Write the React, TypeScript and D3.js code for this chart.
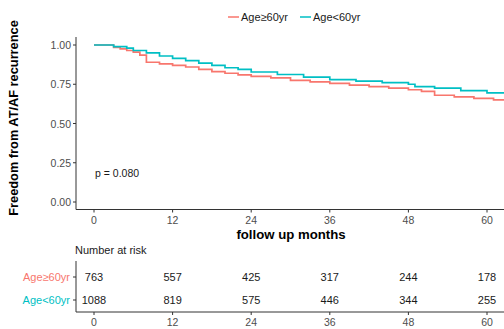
import React, { useEffect, useRef } from 'react';
import * as d3 from 'd3';

// survival steps (month, survival)
const olderTimes = [0, 3, 4, 5, 6, 7, 8, 10, 12, 14, 16, 18, 20, 22, 24, 27, 30, 33, 36, 39, 42, 45, 48, 50, 52, 55, 58, 61, 63];
const olderSurv = [1.0, 0.985, 0.975, 0.965, 0.955, 0.935, 0.89, 0.88, 0.87, 0.86, 0.845, 0.83, 0.82, 0.81, 0.8, 0.79, 0.775, 0.765, 0.755, 0.745, 0.735, 0.725, 0.715, 0.705, 0.68, 0.67, 0.66, 0.65, 0.645];
const youngerTimes = [0, 3, 5, 6, 8, 10, 12, 14, 16, 18, 20, 22, 24, 28, 32, 36, 40, 44, 48, 49, 52, 56, 60, 63];
const youngerSurv = [1.0, 0.99, 0.98, 0.965, 0.95, 0.93, 0.915, 0.9, 0.885, 0.87, 0.855, 0.845, 0.828, 0.812, 0.795, 0.78, 0.77, 0.76, 0.75, 0.735, 0.725, 0.71, 0.695, 0.688];

const groups = ['Age≥60yr', 'Age<60yr'];
const colors = ['#F8766D', '#00BFC4'];
const xTicks = [0, 12, 24, 36, 48, 60];
const yTicks = [0, 0.25, 0.5, 0.75, 1];
const riskOlder = [763, 557, 425, 317, 244, 178];
const riskYounger = [1088, 819, 575, 446, 344, 255];
const pText = 'p = 0.080';

const W = 504;
const H = 329;
const FONT = '"Liberation Sans", Arial, sans-serif';

export default function App() {
  const ref = useRef<SVGSVGElement>(null);

  useEffect(() => {
    const svg = d3.select(ref.current);
    svg.selectAll('*').remove();

    const x = d3.scaleLinear().domain([0, 60]).range([94, 487]);
    const y = d3.scaleLinear().domain([0, 1]).range([202, 45]);
    const left = 76;
    const top = 37;
    const bottom = 209.5;

    // legend
    const leg = svg.append('g').attr('font-family', FONT).attr('font-size', 11);
    const legX = [228, 300];
    groups.forEach((g, i) => {
      leg.append('line').attr('x1', legX[i]).attr('x2', legX[i] + 11).attr('y1', 17).attr('y2', 17)
        .attr('stroke', colors[i]).attr('stroke-width', 1.5);
      leg.append('text').attr('x', legX[i] + 13).attr('y', 21).attr('fill', '#1a1a1a').text(g);
    });

    // curves
    const clip = svg.append('clipPath').attr('id', 'cp');
    clip.append('rect').attr('x', left).attr('y', 0).attr('width', W - left).attr('height', bottom);
    const line = d3.line<[number, number]>().x(d => x(d[0])).y(d => y(d[1])).curve(d3.curveStepAfter);
    const series: [number, number][][] = [
      olderTimes.map((t, i) => [t, olderSurv[i]]),
      youngerTimes.map((t, i) => [t, youngerSurv[i]]),
    ];
    series.forEach((s, i) => {
      svg.append('path').attr('d', line(s)).attr('fill', 'none').attr('stroke', colors[i])
        .attr('stroke-width', 1.7).attr('clip-path', 'url(#cp)');
    });

    // axes
    const ax = svg.append('g').attr('stroke', '#333').attr('stroke-width', 1);
    ax.append('line').attr('x1', left).attr('x2', left).attr('y1', top).attr('y2', bottom);
    ax.append('line').attr('x1', left).attr('x2', W).attr('y1', bottom).attr('y2', bottom);
    yTicks.forEach(t => {
      ax.append('line').attr('x1', left - 3).attr('x2', left).attr('y1', y(t)).attr('y2', y(t));
    });
    xTicks.forEach(t => {
      ax.append('line').attr('x1', x(t)).attr('x2', x(t)).attr('y1', bottom).attr('y2', bottom + 3);
    });

    const lab = svg.append('g').attr('font-family', FONT).attr('font-size', 10.5).attr('fill', '#4d4d4d');
    yTicks.forEach(t => {
      lab.append('text').attr('x', left - 5).attr('y', y(t) + 4).attr('text-anchor', 'end').text(d3.format('.2f')(t));
    });
    xTicks.forEach(t => {
      lab.append('text').attr('x', x(t)).attr('y', 224).attr('text-anchor', 'middle').text(t);
    });

    svg.append('text').attr('x', 95).attr('y', 177).attr('font-family', FONT).attr('font-size', 10.5)
      .attr('fill', '#1a1a1a').text(pText);

    svg.append('text').attr('transform', 'translate(18,118) rotate(-90)')
      .attr('text-anchor', 'middle').attr('font-family', FONT).attr('font-size', 12.8)
      .attr('font-weight', 'bold').attr('fill', '#000').text('Freedom from AT/AF recurrence');

    svg.append('text').attr('x', 291).attr('y', 239).attr('text-anchor', 'middle').attr('font-family', FONT)
      .attr('font-size', 13.2).attr('font-weight', 'bold').attr('fill', '#000').text('follow up months');

    // risk table
    const tTop = 261;
    const tBottom = 312;
    svg.append('text').attr('x', 75).attr('y', 254).attr('font-family', FONT).attr('font-size', 11)
      .attr('fill', '#1a1a1a').text('Number at risk');
    const tax = svg.append('g').attr('stroke', '#333').attr('stroke-width', 1);
    tax.append('line').attr('x1', left).attr('x2', left).attr('y1', tTop).attr('y2', tBottom);
    tax.append('line').attr('x1', left).attr('x2', W).attr('y1', tBottom).attr('y2', tBottom);
    const rowY = [277, 300];
    const rows = [riskOlder, riskYounger];
    rows.forEach((r, i) => {
      tax.append('line').attr('x1', left - 3).attr('x2', left).attr('y1', rowY[i]).attr('y2', rowY[i]);
      svg.append('text').attr('x', left - 6).attr('y', rowY[i] + 4).attr('text-anchor', 'end')
        .attr('font-family', FONT).attr('font-size', 11).attr('fill', colors[i]).text(groups[i]);
      r.forEach((v, j) => {
        svg.append('text').attr('x', x(xTicks[j])).attr('y', rowY[i] + 4).attr('text-anchor', 'middle')
          .attr('font-family', FONT).attr('font-size', 11).attr('fill', '#1a1a1a').text(v);
      });
    });
    xTicks.forEach(t => {
      tax.append('line').attr('x1', x(t)).attr('x2', x(t)).attr('y1', tBottom).attr('y2', tBottom + 3);
      svg.append('text').attr('x', x(t)).attr('y', 326).attr('text-anchor', 'middle').attr('font-family', FONT)
        .attr('font-size', 10.5).attr('fill', '#4d4d4d').text(t);
    });
  }, []);

  return (
    <svg ref={ref} width={W} height={H} style={{ position: 'absolute', left: 0, top: 0, background: '#fff' }} />
  );
}
